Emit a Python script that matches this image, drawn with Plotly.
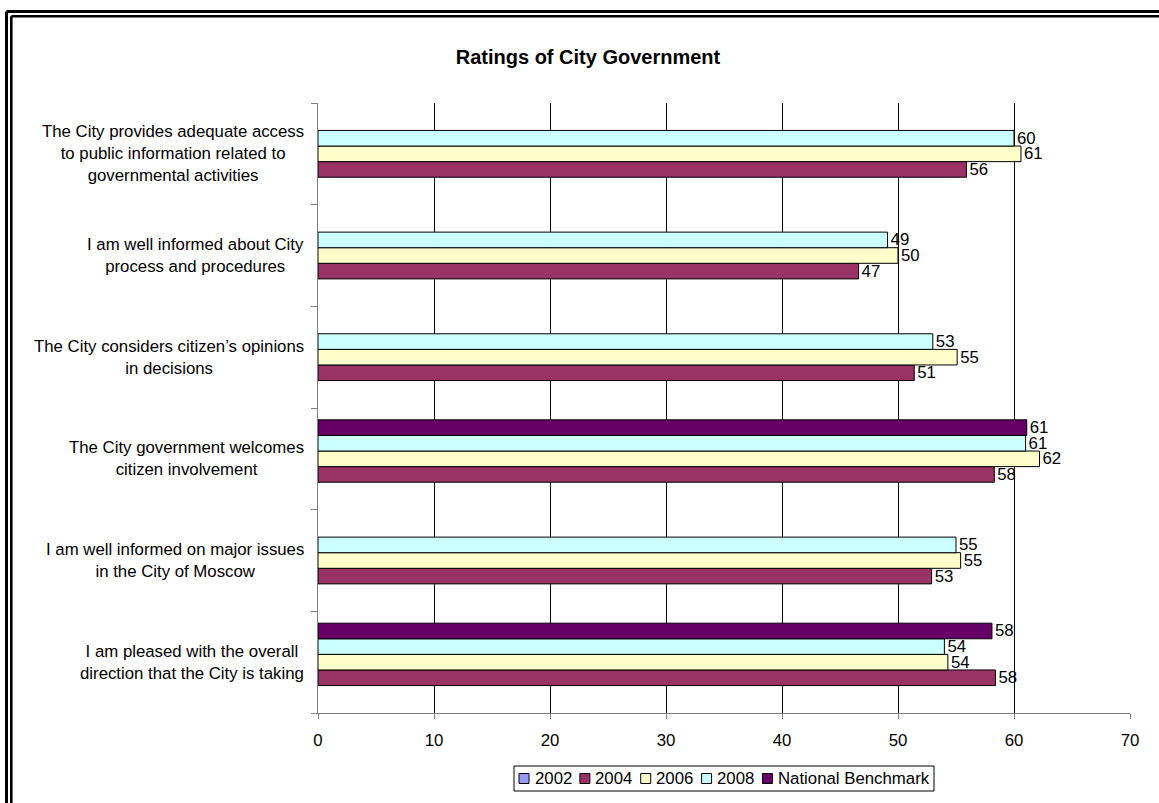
import plotly.graph_objects as go

# Survey statements, listed from the top of the chart to the bottom
categories = [
    "The City provides adequate access<br>to public information related to<br>governmental activities",
    "I am well informed about City<br>process and procedures",
    "The City considers citizen’s opinions<br>in decisions",
    "The City government welcomes<br>citizen involvement",
    "I am well informed on major issues<br>in the City of Moscow",
    "I am pleased with the overall<br>direction that the City is taking",
]

series_names = ["2002", "2004", "2006", "2008", "National Benchmark"]
values_2002 = [None, None, None, None, None, None]
values_2004 = [55.9, 46.6, 51.4, 58.3, 52.9, 58.4]
values_2006 = [60.6, 50.0, 55.1, 62.2, 55.4, 54.3]
values_2008 = [60.0, 49.1, 53.0, 61.0, 55.0, 54.0]
values_benchmark = [None, None, None, 61.1, None, 58.1]

x_ticks = [0, 10, 20, 30, 40, 50, 60, 70]

series_values = [values_2002, values_2004, values_2006, values_2008, values_benchmark]
series_colors = ["#9999FF", "#993366", "#FFFFCC", "#CCFFFF", "#660066"]

FONT = "Liberation Sans, Arial, sans-serif"
FS = 16.8
W, H = 1159, 803
M_L, M_R, M_T, M_B = 318, 29, 103, 90
PLOT_W = W - M_L - M_R
PLOT_H = H - M_T - M_B


def px_x(px):
    return (px - M_L) / PLOT_W


def px_y(py):
    return (H - M_B - py) / PLOT_H


def text_width(s, size):
    # rough Arial advance widths (em) for the legend layout
    w = 0.0
    for ch in s:
        w += 0.556 if ch.isdigit() else 0.55
    return w * size


fig = go.Figure()
for name, vals, color in zip(series_names, series_values, series_colors):
    fig.add_trace(go.Bar(
        name=name,
        y=categories,
        x=vals,
        orientation="h",
        marker=dict(color=color, line=dict(color="#000000", width=1)),
        text=[None if v is None else f"{v:.0f}" for v in vals],
        textposition="outside",
        textfont=dict(family=FONT, size=FS, color="#000000"),
        constraintext="none",
        cliponaxis=False,
        hoverinfo="x+name",
        showlegend=False,
    ))

# Statement labels: block anchored at the axis, lines centred within the block
for cat in categories:
    fig.add_annotation(
        x=0, xref="paper", xanchor="right", xshift=-12,
        y=cat, yref="y", yanchor="middle",
        text=cat, align="center", showarrow=False,
        font=dict(family=FONT, size=FS, color="#000000"),
    )

shapes = []

# Double frame along the top and left edges
for off, lw in [(6.5, 3), (11.3, 2.6)]:
    shapes.append(dict(type="line", xref="paper", yref="paper",
                       x0=px_x(off), x1=px_x(off), y0=px_y(off + 5), y1=px_y(H + 10),
                       line=dict(color="#000000", width=lw)))
    shapes.append(dict(type="line", xref="paper", yref="paper",
                       x0=px_x(off), x1=px_x(W + 10), y0=px_y(off + 5), y1=px_y(off + 5),
                       line=dict(color="#000000", width=lw)))

# Legend box below the axis: small outlined swatch followed by the series name
LEG_L, LEG_R, LEG_T, LEG_B = 514, 934, 766, 791
SW = 10
leg_mid = (LEG_T + LEG_B) / 2
shapes.append(dict(type="rect", xref="paper", yref="paper",
                   x0=px_x(LEG_L), x1=px_x(LEG_R), y0=px_y(LEG_B), y1=px_y(LEG_T),
                   line=dict(color="#000000", width=1), fillcolor="#FFFFFF", layer="below"))
cursor = LEG_L + 5
for name, color in zip(series_names, series_colors):
    shapes.append(dict(type="rect", xref="paper", yref="paper",
                       x0=px_x(cursor), x1=px_x(cursor + SW),
                       y0=px_y(leg_mid + SW / 2), y1=px_y(leg_mid - SW / 2),
                       line=dict(color="#000000", width=1), fillcolor=color))
    fig.add_annotation(
        x=px_x(cursor + SW + 4.5), xref="paper", xanchor="left",
        y=px_y(leg_mid), yref="paper", yanchor="middle",
        text=name, showarrow=False, borderpad=0,
        font=dict(family=FONT, size=FS, color="#000000"),
    )
    cursor += SW + 4.5 + text_width(name, FS) + 9

fig.update_layout(
    width=W, height=H,
    margin=dict(l=M_L, r=M_R, t=M_T, b=M_B, autoexpand=False),
    paper_bgcolor="#FFFFFF",
    plot_bgcolor="#FFFFFF",
    barmode="group",
    bargap=0.233,
    bargroupgap=0,
    font=dict(family=FONT, size=FS, color="#000000"),
    title=dict(
        text="<b>Ratings of City Government</b>",
        x=588 / W, xref="container", xanchor="center",
        y=1 - 57 / H, yref="container", yanchor="middle",
        font=dict(family=FONT, size=20, color="#000000"),
    ),
    xaxis=dict(
        range=[0, 70],
        tickvals=x_ticks,
        ticktext=[str(t) for t in x_ticks],
        showgrid=True, gridcolor="#000000", gridwidth=1,
        zeroline=False,
        showline=True, linecolor="#808080", linewidth=1,
        ticks="outside", ticklen=5, tickcolor="#808080",
        ticklabelstandoff=7,
        tickfont=dict(family=FONT, size=FS, color="#000000"),
        fixedrange=True,
    ),
    yaxis=dict(
        categoryorder="array",
        categoryarray=list(reversed(categories)),
        showticklabels=False,
        showgrid=False, zeroline=False,
        showline=True, linecolor="#808080", linewidth=1,
        ticks="outside", tickson="boundaries", ticklen=6, tickcolor="#808080",
        fixedrange=True,
    ),
    showlegend=False,
    shapes=shapes,
)

fig.write_html("out.html")
